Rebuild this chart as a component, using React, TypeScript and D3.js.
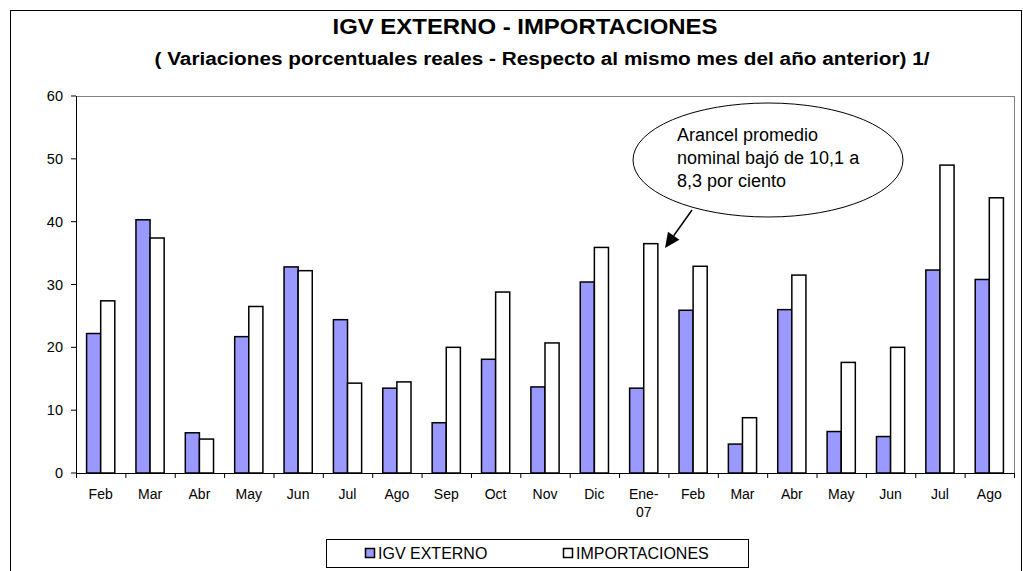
import * as d3 from "d3"

const categories = ["Feb", "Mar", "Abr", "May", "Jun", "Jul", "Ago", "Sep", "Oct", "Nov", "Dic", "Ene-07", "Feb", "Mar", "Abr", "May", "Jun", "Jul", "Ago"]
const igvExterno = [22.2, 40.3, 6.4, 21.7, 32.8, 24.4, 13.5, 8.0, 18.1, 13.7, 30.4, 13.5, 25.9, 4.6, 26.0, 6.6, 5.8, 32.3, 30.8]
const importaciones = [27.4, 37.4, 5.4, 26.5, 32.2, 14.3, 14.5, 20.0, 28.8, 20.7, 35.9, 36.5, 32.9, 8.8, 31.5, 17.6, 20.0, 49.0, 43.8]
const yTicks = [0, 10, 20, 30, 40, 50, 60]
const seriesNames = ["IGV EXTERNO", "IMPORTACIONES"]
const calloutLines = ["Arancel promedio", "nominal bajó de 10,1 a", "8,3 por ciento"]

const W = 1023
const H = 571
const margin = { top: 96, right: 9, bottom: 98, left: 76 }
const font = "'Liberation Sans', Arial, sans-serif"

export default function App() {
  const innerW = W - margin.left - margin.right
  const innerH = H - margin.top - margin.bottom

  const x = d3.scaleBand<number>().domain(d3.range(categories.length)).range([0, innerW])
  const y = d3.scaleLinear().domain([0, 60]).range([innerH, 0])
  // Excel-style gap width 150%
  const sub = d3.scaleBand<number>().domain([0, 1]).range([0, x.bandwidth()]).paddingOuter(0.75)

  const series = [igvExterno, importaciones]
  const fills = ["#9999FF", "#FFFFFF"]

  const arrowFrom = { x: 692, y: 210 }
  const arrowTo = { x: 665, y: 248 }
  const ang = Math.atan2(arrowTo.y - arrowFrom.y, arrowTo.x - arrowFrom.x)
  const head = 15
  const hw = 7
  const bx = arrowTo.x - head * Math.cos(ang)
  const by = arrowTo.y - head * Math.sin(ang)
  const headPts = [
    [arrowTo.x, arrowTo.y],
    [bx + hw * Math.sin(ang), by - hw * Math.cos(ang)],
    [bx - hw * Math.sin(ang), by + hw * Math.cos(ang)],
  ].map((p) => p.join(",")).join(" ")

  return (
    <svg width={W} height={H} style={{ position: "absolute", left: 0, top: 0, background: "#fff" }} fontFamily={font}>
      <rect x={10.5} y={10.5} width={1011} height={580} fill="#fff" stroke="#000" strokeWidth={1} />

      <text x={525} y={34} textAnchor="middle" fontSize={22} fontWeight="bold" textLength={385} lengthAdjust="spacingAndGlyphs">IGV EXTERNO - IMPORTACIONES</text>
      <text x={542} y={65} textAnchor="middle" fontSize={18} fontWeight="bold" textLength={775} lengthAdjust="spacingAndGlyphs">( Variaciones porcentuales reales - Respecto al mismo mes del año anterior) 1/</text>

      <g transform={`translate(${margin.left},${margin.top})`}>
        <line x1={0} x2={innerW} y1={0.5} y2={0.5} stroke="#808080" />
        <line x1={innerW + 0.5} x2={innerW + 0.5} y1={0} y2={innerH} stroke="#808080" />

        {series.map((vals, s) =>
          vals.map((v, i) => (
            <rect
              key={`${s}-${i}`}
              x={(x(i) ?? 0) + (sub(s) ?? 0)}
              y={y(v)}
              width={sub.bandwidth()}
              height={innerH - y(v)}
              fill={fills[s]}
              stroke="#000"
              strokeWidth={1.5}
            />
          )),
        )}

        {/* y axis */}
        <line x1={0.5} x2={0.5} y1={0} y2={innerH} stroke="#000" />
        {yTicks.map((t) => (
          <g key={t} transform={`translate(0,${y(t)})`}>
            <line x1={-5} x2={0} stroke="#000" />
            <text x={-13} dy="0.35em" textAnchor="end" fontSize={14.5}>{t}</text>
          </g>
        ))}

        {/* x axis */}
        <line x1={0} x2={innerW} y1={innerH + 0.5} y2={innerH + 0.5} stroke="#000" />
        {d3.range(categories.length + 1).map((i) => (
          <line key={i} x1={i * x.step() + 0.5} x2={i * x.step() + 0.5} y1={innerH} y2={innerH + 5} stroke="#000" />
        ))}
        {categories.map((c, i) => {
          const cx = (x(i) ?? 0) + x.bandwidth() / 2
          const parts = c.includes("-") ? [c.split("-")[0] + "-", c.split("-")[1]] : [c]
          return (
            <text key={i} x={cx} y={innerH + 26} textAnchor="middle" fontSize={14}>
              {parts.map((p, k) => (
                <tspan key={k} x={cx} dy={k === 0 ? 0 : 18}>{p}</tspan>
              ))}
            </text>
          )
        })}
      </g>

      {/* callout */}
      <ellipse cx={768} cy={160} rx={135} ry={57} fill="#fff" stroke="#000" strokeWidth={1} />
      {calloutLines.map((l, i) => (
        <text key={i} x={677} y={141 + i * 23} fontSize={18}>{l}</text>
      ))}
      <line x1={arrowFrom.x} y1={arrowFrom.y} x2={bx} y2={by} stroke="#000" strokeWidth={1.5} />
      <polygon points={headPts} fill="#000" />

      {/* legend */}
      <rect x={326.5} y={539.5} width={422} height={28} fill="#fff" stroke="#000" />
      {seriesNames.map((n, i) => {
        const lx = i === 0 ? 365 : 563
        return (
          <g key={n}>
            <rect x={lx + 0.5} y={548.5} width={9} height={9} fill={fills[i]} stroke="#000" strokeWidth={1.5} />
            <text x={lx + 13} y={559} fontSize={16}>{n}</text>
          </g>
        )
      })}
    </svg>
  )
}
